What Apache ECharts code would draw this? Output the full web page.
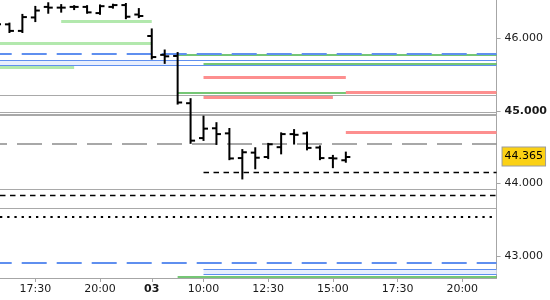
<!DOCTYPE html>
<html><head><meta charset="utf-8">
<script src="https://cdn.jsdelivr.net/npm/echarts@6/dist/echarts.min.js"></script>
<style>html,body{margin:0;padding:0;background:#fff}#c{width:550px;height:300px}</style>
</head><body><div id="c"></div>
<script>
// ---- session slots (30-minute bars, night hours skipped) ----
const sessionDay2 = ['16:00','16:30','17:00','17:30','18:00','18:30','19:00','19:30','20:00','20:30','21:00','21:30'];
const sessionDay3 = ['08:00','08:30','09:00','09:30','10:00','10:30','11:00','11:30','12:00','12:30','13:00','13:30',
  '14:00','14:30','15:00','15:30','16:00','16:30','17:00','17:30','18:00','18:30','19:00','19:30','20:00','20:30','21:00','21:30'];

// ---- OHLC bars ----
const barTimes = ['02 16:00','02 16:30','02 17:00','02 17:30','02 18:00','02 18:30','02 19:00','02 19:30','02 20:00','02 20:30','02 21:00','02 21:30',
  '03 08:00','03 08:30','03 09:00','03 09:30','03 10:00','03 10:30','03 11:00','03 11:30','03 12:00','03 12:30','03 13:00','03 13:30','03 14:00','03 14:30','03 15:00','03 15:30'];
const opens  = [46.20,46.19,46.10,46.285,46.43,46.42,46.43,46.43,46.345,46.43,46.455,46.325,
  46.03,45.77,45.755,45.105,44.625,44.76,44.69,44.35,44.425,44.365,44.50,44.68,44.69,44.495,44.35,44.32];
const highs  = [46.22,46.20,46.32,46.43,46.48,46.455,46.44,46.44,46.45,46.46,46.47,46.40,
  46.12,45.83,45.795,45.16,44.92,44.83,44.75,44.46,44.485,44.545,44.69,44.735,44.70,44.51,44.38,44.425];
const lows   = [46.17,46.085,46.085,46.235,46.35,46.365,46.40,46.35,46.335,46.42,46.275,46.29,
  45.72,45.66,45.10,44.56,44.60,44.545,44.335,44.07,44.21,44.35,44.415,44.55,44.47,44.335,44.225,44.30];
const closes = [46.19,46.10,46.29,46.38,46.42,46.42,46.43,46.355,46.44,46.455,46.295,46.305,
  45.74,45.75,45.115,44.59,44.755,44.68,44.345,44.43,44.355,44.54,44.68,44.67,44.49,44.35,44.345,44.365];
const lastPrice = 44.365;

// ---- axis ticks ----
const xTickTimes  = ['02 17:30','02 20:00','03 08:00','03 10:00','03 12:30','03 15:00','03 17:30','03 20:00'];
const xTickLabels = ['17:30','20:00','03','10:00','12:30','15:00','17:30','20:00'];
const yTicks = [43, 44, 45, 46];
const yBoldTick = 45;

// ---- horizontal levels ----
const lightGreenLevels = [46.237, 45.934, 45.604];
const lightGreenFrom   = ['02 18:30', null, null];
const lightGreenTo     = ['03 08:00', '03 08:00', '02 19:00'];
const blueDashedLevels = [45.783, 42.904];
const blueBand = [45.700, 45.631];
const blueBandFillTo = '03 09:00';
const blueBox = [42.821, 42.752];
const blueBoxFrom = '03 10:00';
const greenLevels = [45.769, 45.641, 45.246, 42.711];
const greenFrom   = ['03 09:00', '03 10:00', '03 09:00', '03 09:00'];
const pinkLevels = [45.462, 45.187, 45.255, 44.706];
const pinkFrom   = ['03 10:00', '03 10:00', '03 15:30', '03 15:30'];
const pinkTo     = ['03 15:30', '03 15:00', null, null];
const grayLevels = [45.215, 44.975, 44.945, 43.92, 43.664];
const grayDashedLevel = 44.545;
const blackDashedLevels = [44.16, 43.84];
const blackDashedFrom   = ['03 10:00', null];
const blackDottedLevel = 43.536;

// ---- view window ----
const X_MIN = 0.27, X_MAX = 38.65;
const Y_MIN = 42.70, Y_MAX = 46.525;

const slots = sessionDay2.map(t => '02 ' + t).concat(sessionDay3.map(t => '03 ' + t));
const idx = t => slots.indexOf(t);
const xs = t => (t == null ? null : idx(t));

const FONT = 'DejaVu Sans';
const ohlc = barTimes.map((t, i) => [idx(t), opens[i], highs[i], lows[i], closes[i]]);

function seg(v, from, to, style) {
  return [
    { coord: [from == null ? X_MIN : xs(from), v], lineStyle: style },
    { coord: [to == null ? X_MAX : xs(to), v] }
  ];
}

const lines = [];
const grayWidths = [1, 1, 2, 1, 1];
grayLevels.forEach((v, i) => lines.push(seg(v, null, null, { color: '#a9a9a9', width: grayWidths[i], type: 'solid' })));
lines.push(seg(grayDashedLevel, null, null, { color: '#8c8c8c', width: 1.5, type: [25, 10], dashOffset: 18 }));
blackDashedLevels.forEach((v, i) => lines.push(seg(v, blackDashedFrom[i], null, { color: '#000', width: 1.3, type: [5.5, 4.5] })));
lines.push(seg(blackDottedLevel, null, null, { color: '#000', width: 2.2, type: [2.3, 4.9] }));
lightGreenLevels.forEach((v, i) => lines.push(seg(v, lightGreenFrom[i], lightGreenTo[i], { color: '#b2e8ad', width: 3, type: 'solid' })));
blueBand.forEach(v => lines.push(seg(v, null, null, { color: '#5f8fef', width: 1, type: 'solid' })));
blueBox.forEach(v => lines.push(seg(v, blueBoxFrom, null, { color: '#5f8fef', width: 1, type: 'solid' })));
greenLevels.forEach((v, i) => lines.push(seg(v, greenFrom[i], null, { color: '#47b347', width: 1.5, type: 'solid' })));
blueDashedLevels.forEach(v => lines.push(seg(v, null, null, { color: '#5f8fef', width: 2, type: [25, 10], dashOffset: 13.3 })));
pinkLevels.forEach((v, i) => lines.push(seg(v, pinkFrom[i], pinkTo[i], { color: '#fd8f8f', width: 3, type: 'solid' })));

const chart = echarts.init(document.getElementById('c'), null, { renderer: 'canvas' });
chart.setOption({
  animation: false,
  backgroundColor: '#fff',
  grid: { left: 0, right: 51, top: 0, bottom: 22 },
  xAxis: {
    type: 'value', min: X_MIN, max: X_MAX,
    splitLine: { show: false },
    axisLine: { show: true, lineStyle: { color: '#a6a6a6', width: 1 } },
    axisTick: { show: true, customValues: xTickTimes.map(idx), length: 4, lineStyle: { color: '#a6a6a6' } },
    axisLabel: {
      show: true, customValues: xTickTimes.map(idx), margin: 6,
      fontFamily: FONT, fontSize: 11, color: '#1a1a1a',
      formatter: v => {
        const k = xTickTimes.map(idx).indexOf(Math.round(v));
        const s = k >= 0 ? xTickLabels[k] : '';
        return s === '03' ? '{b|' + s + '}' : s;
      },
      rich: { b: { fontWeight: 'bold', fontFamily: FONT, fontSize: 11, color: '#1a1a1a' } }
    }
  },
  yAxis: {
    type: 'value', position: 'right', min: Y_MIN, max: Y_MAX, scale: true,
    splitLine: { show: false },
    axisLine: { show: true, lineStyle: { color: '#a6a6a6', width: 1 } },
    axisTick: { show: true, customValues: yTicks, length: 4, lineStyle: { color: '#a6a6a6' } },
    axisLabel: {
      show: true, customValues: yTicks, margin: 8,
      fontFamily: FONT, fontSize: 11, color: '#1a1a1a',
      formatter: v => (Math.abs(v - yBoldTick) < 1e-9 ? '{b|' + v.toFixed(3) + '}' : v.toFixed(3)),
      rich: { b: { fontWeight: 'bold', fontFamily: FONT, fontSize: 11, color: '#1a1a1a' } }
    }
  },
  series: [
    {
      type: 'line', data: [], silent: true, z: 1,
      markArea: {
        silent: true, z: 1,
        data: [
          [{ coord: [X_MIN, blueBand[0]], itemStyle: { color: '#e8eefd' } }, { coord: [xs(blueBandFillTo), blueBand[1]] }],
          [{ coord: [xs(blueBoxFrom), blueBox[0]], itemStyle: { color: '#e8eefd' } }, { coord: [X_MAX, blueBox[1]] }]
        ]
      },
      markLine: {
        silent: true, z: 2, symbol: ['none', 'none'], animation: false,
        label: { show: false },
        data: lines
      }
    },
    {
      type: 'custom', z: 3, clip: true,
      encode: { x: 0, y: [1, 2, 3, 4] },
      data: ohlc,
      renderItem: (params, api) => {
        const x = api.value(0);
        const o = api.coord([x, api.value(1)]);
        const h = api.coord([x, api.value(2)]);
        const l = api.coord([x, api.value(3)]);
        const c = api.coord([x, api.value(4)]);
        const w = 4.5, st = { stroke: '#000', lineWidth: 2 };
        return {
          type: 'group',
          children: [
            { type: 'line', shape: { x1: h[0], y1: h[1] - 1, x2: l[0], y2: l[1] + 1 }, style: st },
            { type: 'line', shape: { x1: o[0] - w, y1: o[1], x2: o[0], y2: o[1] }, style: st },
            { type: 'line', shape: { x1: c[0], y1: c[1], x2: c[0] + w, y2: c[1] }, style: st }
          ]
        };
      },
      markLine: {
        silent: true, z: 10, symbol: ['none', 'none'], animation: false,
        lineStyle: { color: 'transparent', width: 0 },
        label: {
          show: true, position: 'end', distance: 6,
          formatter: () => lastPrice.toFixed(3),
          fontFamily: FONT, fontSize: 11, color: '#000',
          backgroundColor: '#fbd114', borderColor: '#9c9c9c', borderWidth: 1,
          padding: [4, 2, 3, 2]
        },
        data: [{ yAxis: lastPrice }]
      }
    }
  ]
});
</script></body></html>
